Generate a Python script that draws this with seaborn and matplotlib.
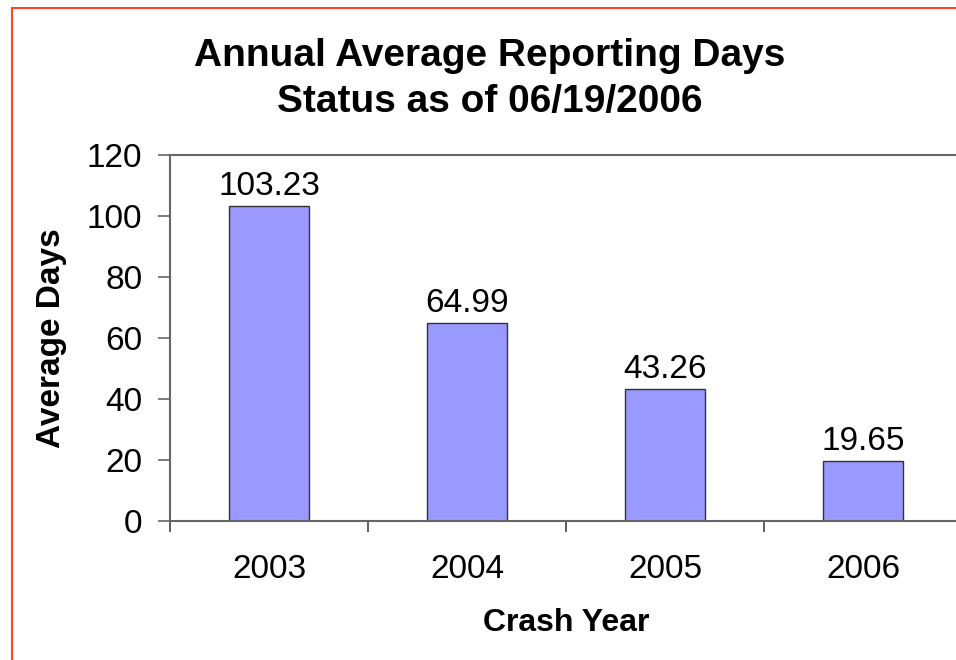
import matplotlib
matplotlib.use("Agg")
import matplotlib.pyplot as plt
import seaborn as sns
import pandas as pd
from matplotlib.patches import Rectangle
from matplotlib.ticker import FixedLocator

years = ["2003", "2004", "2005", "2006"]
avg_days = [103.23, 64.99, 43.26, 19.65]
value_labels = ["103.23", "64.99", "43.26", "19.65"]
y_ticks = [0, 20, 40, 60, 80, 100, 120]

sns.set_style("white")
plt.rcParams["font.family"] = ["Liberation Sans", "DejaVu Sans"]
plt.rcParams["text.color"] = "black"
plt.rcParams["axes.labelcolor"] = "black"
plt.rcParams["xtick.color"] = "black"
plt.rcParams["ytick.color"] = "black"

df = pd.DataFrame({"Crash Year": years, "Average Days": avg_days})

fig = plt.figure(figsize=(9.56, 6.60), dpi=100)
ax = fig.add_axes([170 / 956, 139 / 660, 792 / 956, 366 / 660])

sns.barplot(data=df, x="Crash Year", y="Average Days", ax=ax, width=0.4,
            color="#9999FF", edgecolor="#333333", linewidth=1.0, saturation=1)

ax.set_xlim(-0.5, 3.5)
ax.set_ylim(0, 120)
ax.set_yticks(y_ticks)
ax.set_yticklabels([str(t) for t in y_ticks])

ax.bar_label(ax.containers[0], labels=value_labels, padding=3, fontsize=24, color="black")

for side in ["left", "top", "bottom", "right"]:
    ax.spines[side].set_color("#666666")
    ax.spines[side].set_linewidth(1.5)

ax.tick_params(axis="y", which="major", direction="out", length=9, width=1.2,
               color="#666666", labelcolor="black", labelsize=24, pad=11, left=True)
ax.tick_params(axis="x", which="major", length=0, labelsize=24, labelcolor="black", pad=24)
ax.xaxis.set_minor_locator(FixedLocator([-0.5, 0.5, 1.5, 2.5, 3.5]))
ax.tick_params(axis="x", which="minor", direction="out", length=8, width=1.2,
               color="#444444", bottom=True)

ax.set_xlabel("Crash Year", fontsize=23, fontweight="bold", labelpad=16, color="black")
ax.set_ylabel("Average Days", fontsize=24, fontweight="bold", labelpad=14, color="black")

fig.text(490 / 956, 1 - 79 / 660, "Annual Average Reporting Days\nStatus as of 06/19/2006",
         ha="center", va="center", fontsize=28, fontweight="bold", linespacing=1.38,
         color="black")

border = Rectangle((12 / 956, -0.1), 1.2, 1 - 8 / 660 + 0.1, transform=fig.transFigure,
                   fill=False, edgecolor="#FF4A1C", linewidth=1.5)
fig.patches.append(border)

fig.savefig("out.png", dpi=100)
